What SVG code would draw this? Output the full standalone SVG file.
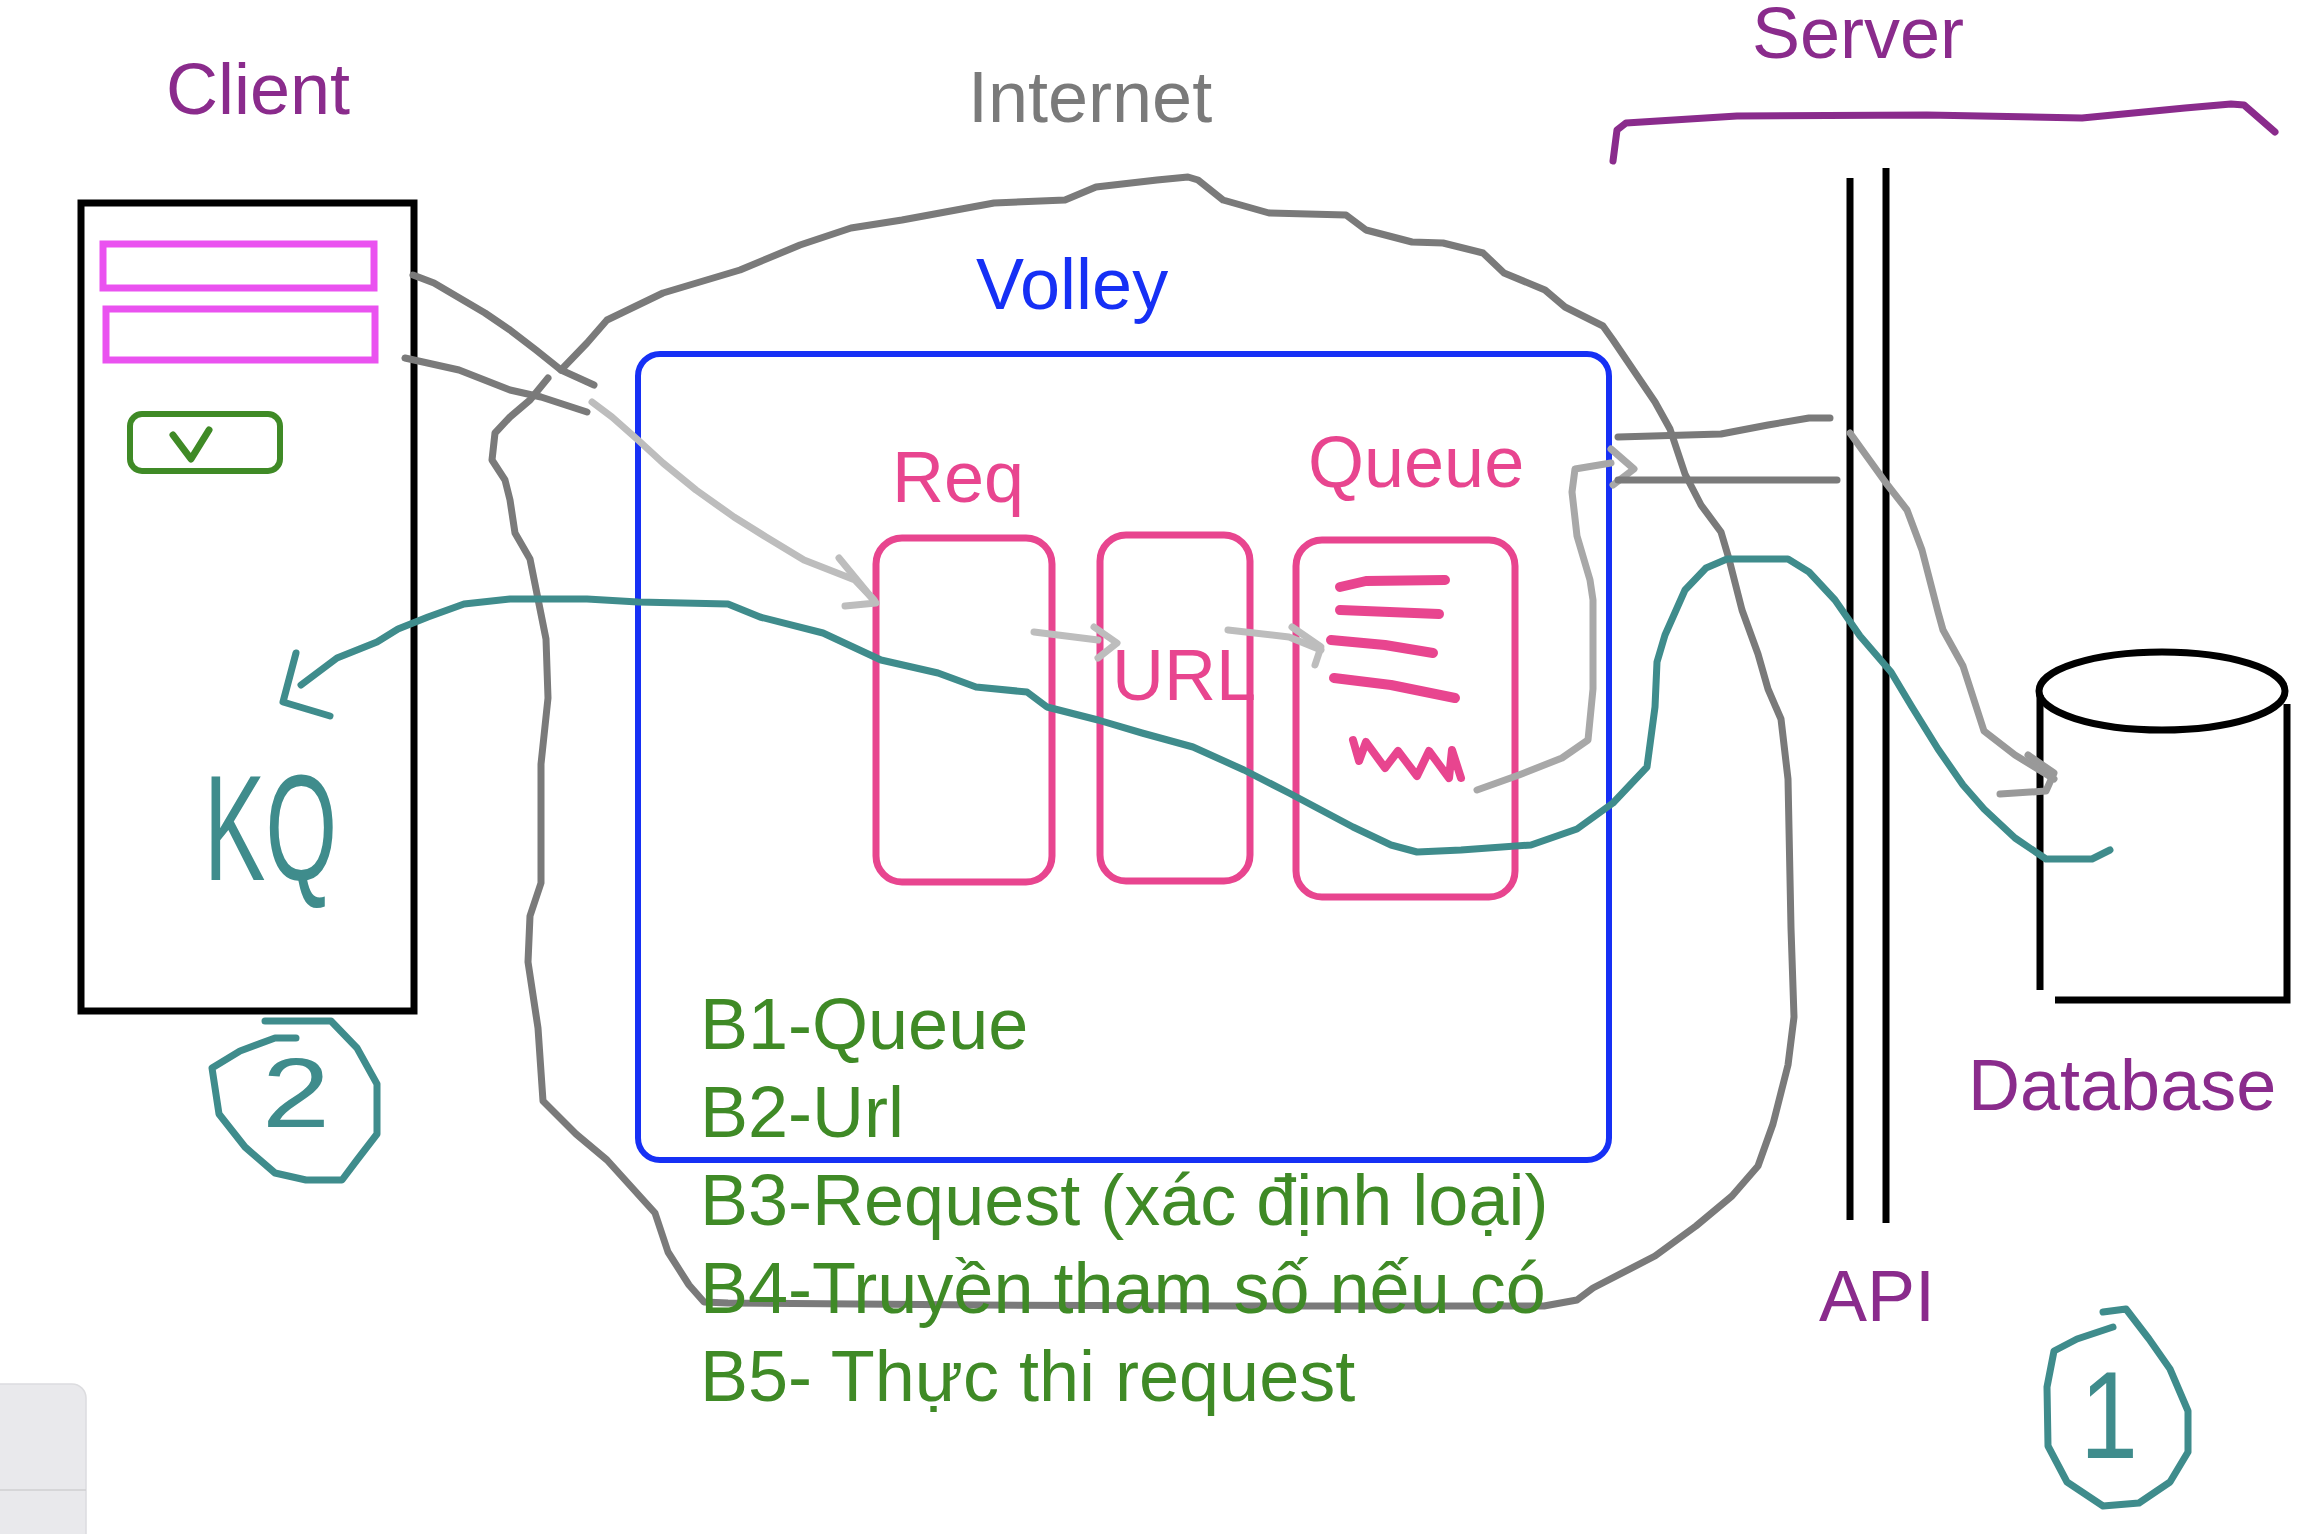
<svg xmlns="http://www.w3.org/2000/svg" width="2308" height="1534" viewBox="0 0 2308 1534">
<style>
.t{font-family:"Liberation Sans",Arial,sans-serif;font-size:72px}
.purple{fill:#8a2b8c}
.green{fill:#3f8a26}
.pinkt{fill:#e8458f}
.ln{fill:none;stroke-linecap:round;stroke-linejoin:round}
.gray{stroke:#7a7a7a;stroke-width:7}
.teal{stroke:#3f8c8c;stroke-width:7}
.pink{stroke:#e8458f;stroke-width:7}
.blk{stroke:#000;stroke-width:7}
</style>
<rect width="2308" height="1534" fill="#fff"/>

<g id="internet">
<path class="ln gray" d="M561,370 L587,343 L607,320 L663,293 L740,270 L800,245 L851,228 L902,220 L994,203 L1065,200 L1096,187 L1157,180 L1188,177 L1198,180 L1223,200 L1269,213 L1346,215 L1366,230 L1412,242 L1443,243 L1483,253 L1504,273 L1545,290 L1565,307 L1603,326 L1613,340 L1634,371 L1655,402 L1670,429 L1685,474 L1701,505 L1721,532 L1729,559 L1742,610 L1758,654 L1768,689 L1781,719 L1788,779 L1791,928 L1794,1017 L1788,1065 L1773,1124 L1758,1166 L1732,1196 L1696,1226 L1655,1256 L1593,1288 L1577,1300 L1544,1306 L1238,1306 L983,1305 L728,1303 L704,1302 L689,1285 L668,1252 L655,1213 L607,1160 L576,1134 L543,1101 L538,1028 L528,962 L530,916 L541,883 L541,764 L548,698 L546,639 L538,599 L530,559 L515,533 L510,500 L505,480 L492,460 L495,433 L510,417 L530,400 L548,378"/>
<text class="t" x="968" y="122" fill="#7a7a7a">Internet</text>
</g>

<g id="client">
<text class="t purple" x="166" y="114">Client</text>
<rect x="81" y="203" width="333" height="808" fill="none" stroke="#000" stroke-width="7"/>
<rect x="103" y="244" width="271" height="44" fill="none" stroke="#ea52f0" stroke-width="7"/>
<rect x="106" y="309" width="269" height="51" fill="none" stroke="#ea52f0" stroke-width="7"/>
<rect x="130" y="414" width="150" height="57" rx="12" fill="none" stroke="#3f8a26" stroke-width="6"/>
<path class="ln" stroke="#3f8a26" stroke-width="7" d="M173,435 L191,459 L209,430"/>
<text x="204" y="880" font-family="'Liberation Sans',Arial,sans-serif" font-size="150" fill="#3f8c8c" textLength="133" lengthAdjust="spacingAndGlyphs">KQ</text>
<path class="ln teal" d="M265,1021 L331,1021 L357,1048 L377,1084 L377,1134 L357,1160 L342,1180 L306,1180 L275,1173 L245,1147 L219,1114 L212,1068 L240,1051 L275,1038 L296,1038"/>
<text x="262" y="1127" font-family="'Liberation Sans',Arial,sans-serif" font-size="98" fill="#3f8c8c" textLength="68" lengthAdjust="spacingAndGlyphs">2</text>
</g>

<g id="volley">
<rect x="638" y="354" width="971" height="806" rx="22" fill="none" stroke="#1630f5" stroke-width="6"/>
<text class="t" x="976" y="309" fill="#1630f5">Volley</text>
<text class="t green" x="700" y="1049">B1-Queue</text>
<text class="t green" x="700" y="1137">B2-Url</text>
<text class="t green" x="700" y="1225">B3-Request (xác định loại)</text>
<text class="t green" x="700" y="1313">B4-Truyền tham số nếu có</text>
<text class="t green" x="700" y="1401">B5- Thực thi request</text>
</g>

<g id="req">
<rect x="876" y="538" width="176" height="344" rx="26" fill="none" stroke="#e8458f" stroke-width="7"/>
<text class="t pinkt" x="892" y="502">Req</text>
</g>

<g id="url">
<rect x="1100" y="535" width="150" height="346" rx="26" fill="none" stroke="#e8458f" stroke-width="7"/>
<text class="t pinkt" x="1112" y="700">URL</text>
</g>

<g id="queue">
<rect x="1296" y="540" width="219" height="357" rx="26" fill="none" stroke="#e8458f" stroke-width="7"/>
<text class="t pinkt" x="1308" y="487">Queue</text>
<g class="ln" stroke="#e8458f" stroke-width="10">
<path d="M1340,587 L1366,581 L1445,580"/>
<path d="M1340,610 L1439,614"/>
<path d="M1331,640 L1385,645 L1433,653"/>
<path d="M1334,678 L1391,685 L1455,698"/>
<path stroke-width="8" d="M1353,740 L1359,761 L1366,742 L1385,768 L1398,751 L1417,776 L1429,751 L1449,778 L1452,750 L1461,778"/>
</g>
</g>

<g id="server">
<text class="t purple" x="1752" y="58">Server</text>
<path class="ln" stroke="#8a2b8c" stroke-width="7" d="M1613,161 L1617,130 L1626,123 L1737,116 L1927,115 L2082,118 L2185,108 L2231,104 L2244,105 L2275,132"/>
</g>

<g id="api">
<line x1="1850" y1="178" x2="1850" y2="1220" stroke="#000" stroke-width="7"/>
<line x1="1886" y1="168" x2="1886" y2="1223" stroke="#000" stroke-width="7"/>
<text class="t purple" x="1819" y="1321">API</text>
</g>

<g id="database">
<ellipse cx="2162" cy="691" rx="123" ry="39" fill="none" stroke="#000" stroke-width="7"/>
<path class="blk" fill="none" d="M2040,695 L2040,990"/>
<path class="blk" fill="none" d="M2055,1000 L2287,1000 L2287,704"/>
<text class="t purple" x="1968" y="1110">Database</text>
<path class="ln teal" d="M2103,1312 L2126,1309 L2149,1339 L2170,1369 L2188,1411 L2188,1452 L2170,1482 L2139,1503 L2103,1506 L2067,1482 L2048,1446 L2047,1387 L2054,1351 L2077,1339 L2113,1327"/>
<text x="2080" y="1458" font-family="'Liberation Sans',Arial,sans-serif" font-size="124" fill="#3f8c8c" textLength="58" lengthAdjust="spacingAndGlyphs">1</text>
</g>

<g id="connectors" class="ln">
<path class="gray" d="M413,275 L434,283 L485,313 L510,330 L536,350 L561,370 L594,385"/>
<path class="gray" d="M405,358 L459,370 L510,390 L541,397 L587,412"/>
<path stroke="#bdbdbd" stroke-width="7" d="M592,402 L612,417 L638,440 L663,463 L696,490 L734,517 L766,537 L804,560 L855,580 L874,600"/>
<path stroke="#bdbdbd" stroke-width="7" d="M839,558 L876,603 L845,606"/>
<path stroke="#bdbdbd" stroke-width="7" d="M1034,632 L1098,640"/>
<path stroke="#bdbdbd" stroke-width="7" d="M1094,627 L1117,643 L1098,658"/>
<path stroke="#bdbdbd" stroke-width="7" d="M1228,630 L1289,637 L1321,650"/>
<path stroke="#bdbdbd" stroke-width="7" d="M1292,627 L1321,647 L1315,665"/>
<path stroke="#a8a8a8" stroke-width="7" d="M1477,790 L1519,775 L1562,758 L1588,740 L1593,689 L1593,600 L1590,580 L1577,536 L1572,492 L1575,469 L1611,463"/>
<path stroke="#a8a8a8" stroke-width="7" d="M1611,449 L1634,469 L1613,485"/>
<path class="gray" d="M1618,437 L1721,434 L1768,425 L1809,418 L1830,418"/>
<path class="gray" d="M1618,480 L1837,480"/>
<path stroke="#999" stroke-width="7" d="M1850,433 L1886,483 L1907,510 L1922,550 L1938,612 L1943,630 L1963,666 L1984,731 L2015,755 L2054,779"/>
<path stroke="#999" stroke-width="7" d="M2028,755 L2054,773 L2046,791 L2000,794"/>
<path class="teal" d="M2110,850 L2092,859 L2046,859 L2015,838 L1984,809 L1963,785 L1938,749 L1912,707 L1891,672 L1860,636 L1835,600 L1809,572 L1788,559 L1727,559 L1706,568 L1685,590 L1665,635 L1657,662 L1655,707 L1647,767 L1613,803 L1577,829 L1531,845 L1461,850 L1417,852 L1391,845 L1353,827 L1289,793 L1244,770 L1193,747 L1142,733 L1098,720 L1047,707 L1027,692 L976,687 L938,673 L881,660 L823,633 L760,617 L728,604 L638,602 L587,599 L510,599 L464,604 L428,617 L398,629 L377,642 L337,658 L301,685"/>
<path class="teal" d="M296,653 L283,702 L330,716"/>
</g>

<g id="ui-fragment">
<rect x="-20" y="1384" width="106" height="170" rx="14" fill="#e9e9ec" stroke="#dcdcdf" stroke-width="1.5"/>
<line x1="0" y1="1490" x2="86" y2="1490" stroke="#cfcfd2" stroke-width="1.5"/>
</g>
</svg>
